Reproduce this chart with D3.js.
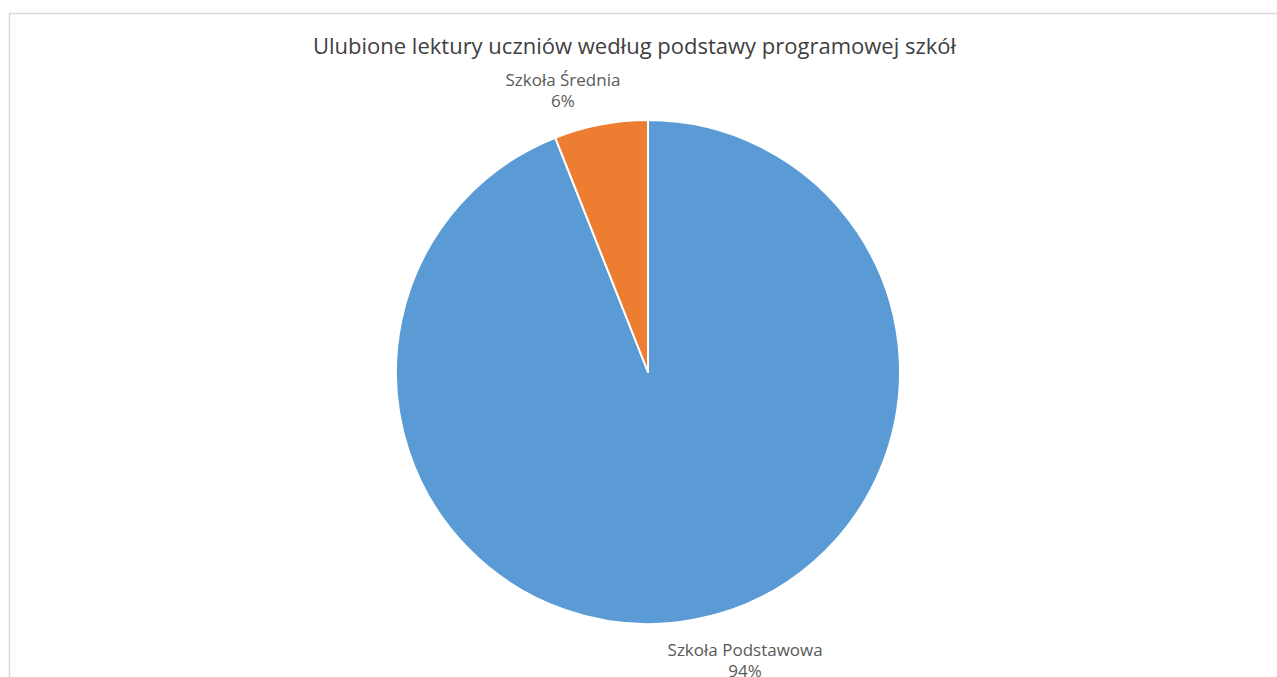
<!DOCTYPE html>
<html>
<head>
<meta charset="utf-8">
<script src="https://cdn.jsdelivr.net/npm/d3@7"></script>
<style>
  body { margin: 0; background: #fff; }
  text { font-family: "Open Sans", sans-serif; }
</style>
</head>
<body>
<div id="chart"></div>
<script>
var categories = ["Szkoła Podstawowa", "Szkoła Średnia"];
var values = [94, 6];
var pctLabels = ["94%", "6%"];
var colors = ["#5B9BD5", "#ED7D31"];
var title = "Ulubione lektury uczniów według podstawy programowej szkół";

var width = 1277, height = 677;
var cx = 648, cy = 372, radius = 252;

var svg = d3.select("#chart").append("svg")
    .attr("width", width)
    .attr("height", height);

// chart frame
svg.append("rect")
    .attr("x", 9.5).attr("y", 13.5)
    .attr("width", width + 20).attr("height", height + 20)
    .attr("fill", "#fff")
    .attr("stroke", "#d9d9d9")
    .attr("stroke-width", 1.5);

svg.append("text")
    .attr("x", 634.5).attr("y", 54)
    .attr("text-anchor", "middle")
    .style("font-size", "22px")
    .style("fill", "#404040")
    .text(title);

var data = categories.map(function(c, i) {
    return {name: c, value: values[i], pct: pctLabels[i], color: colors[i]};
});

var pie = d3.pie().sort(null).value(function(d) { return d.value; });
var arc = d3.arc().innerRadius(0).outerRadius(radius);

var g = svg.append("g").attr("transform", "translate(" + cx + "," + cy + ")");

var arcs = pie(data);

g.selectAll("path")
    .data(arcs)
    .join("path")
    .attr("d", arc)
    .attr("fill", function(d) { return d.data.color; })
    .attr("stroke", "#fff")
    .attr("stroke-width", 2)
    .attr("stroke-linejoin", "round");

// labels outside, best-fit-ish
var lineH = 21;
var labels = g.selectAll("g.lbl")
    .data(arcs)
    .join("g")
    .attr("class", "lbl");

labels.each(function(d) {
    var sel = d3.select(this);
    var t = sel.append("text")
        .attr("text-anchor", "middle")
        .style("font-size", "17px")
        .style("fill", "#595959");
    t.append("tspan").attr("x", 0).attr("dy", 0).text(d.data.name);
    t.append("tspan").attr("x", 0).attr("dy", lineH).text(d.data.pct);

    var w = t.select("tspan").node().getComputedTextLength();
    var a = (d.startAngle + d.endAngle) / 2;
    var r = radius + 18;
    var px = r * Math.sin(a), py = -r * Math.cos(a);
    var sx = Math.sin(a) >= 0 ? 1 : -1;
    var x = px + sx * 0.3 * w;
    // block sits just outside the pie edge
    var y = py < 0 ? py - lineH : py + 19;
    sel.attr("transform", "translate(" + x + "," + y + ")");
});
</script>
</body>
</html>
